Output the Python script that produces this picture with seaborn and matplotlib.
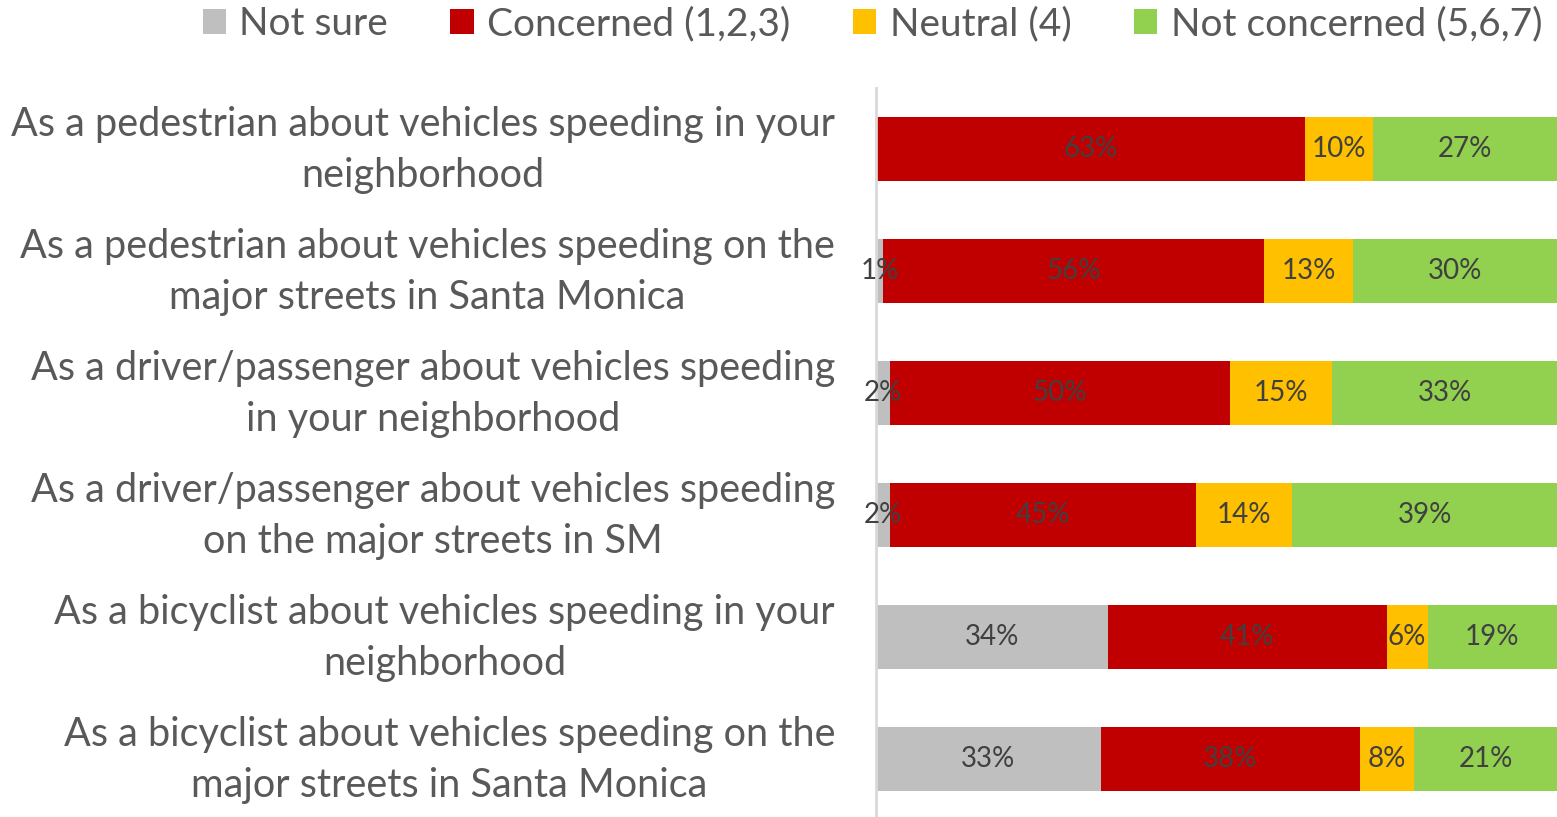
import matplotlib
matplotlib.use("Agg")
import matplotlib.pyplot as plt
import matplotlib.transforms as mtransforms
import seaborn as sns
import pandas as pd
import numpy as np
from matplotlib.patches import Patch

categories = [
    "As a pedestrian about vehicles speeding in your\nneighborhood",
    "As a pedestrian about vehicles speeding on the\nmajor streets in Santa Monica",
    "As a driver/passenger about vehicles speeding\nin your neighborhood",
    "As a driver/passenger about vehicles speeding\non the major streets in SM",
    "As a bicyclist about vehicles speeding in your\nneighborhood",
    "As a bicyclist about vehicles speeding on the\nmajor streets in Santa Monica",
]
series = ["Not sure", "Concerned (1,2,3)", "Neutral (4)", "Not concerned (5,6,7)"]
not_sure = [0, 1, 2, 2.1, 34, 33]
concerned = [63, 56, 50, 44.9, 41, 38]
neutral = [10, 13, 15, 14.1, 6, 8]
not_concerned = [27, 30, 33, 38.9, 19, 21]
labels_not_sure = ["", "1%", "2%", "2%", "34%", "33%"]
labels_concerned = ["63%", "56%", "50%", "45%", "41%", "38%"]
labels_neutral = ["10%", "13%", "15%", "14%", "6%", "8%"]
labels_not_concerned = ["27%", "30%", "33%", "39%", "19%", "21%"]
colors = ["#BFBFBF", "#C00000", "#FFC000", "#92D050"]

sns.set_theme(style="white")
plt.rcParams["font.family"] = ["Lato", "DejaVu Sans"]

values = [not_sure, concerned, neutral, not_concerned]
labels = [labels_not_sure, labels_concerned, labels_neutral, labels_not_concerned]
cum = np.cumsum(np.array(values, dtype=float), axis=0)

fig = plt.figure(figsize=(15.57, 8.17), dpi=100)
ax = fig.add_axes([876 / 1557, -3 / 817, 1 - 876 / 1557, (817 - 88 + 3) / 817])

for i in range(3, -1, -1):
    df = pd.DataFrame({"cat": categories, "end": cum[i]})
    sns.barplot(data=df, x="end", y="cat", color=colors[i], orient="h",
                width=0.52, saturation=1, ax=ax, edgecolor="none", linewidth=0)

for i in range(4):
    start = cum[i] - np.array(values[i], dtype=float)
    for j, cat in enumerate(categories):
        if labels[i][j]:
            ax.text((start[j] + cum[i][j]) / 2, j, labels[i][j], ha="center", va="center",
                    fontsize=20, color="#404040", clip_on=False)

ax.set_xlim(0, 100)
ax.set_ylim(5.5, -0.5)
ax.set_xlabel("")
ax.set_ylabel("")
ax.set_xticks([])
ax.set_yticks(range(len(categories)))
ax.set_yticklabels([])
ax.tick_params(axis="y", length=0)

# category labels drawn as text at the tick positions
shift = mtransforms.ScaledTranslation(-41 / 100, -1 / 100, fig.dpi_scale_trans)
for j, cat in enumerate(categories):
    ax.text(0, j, cat, transform=ax.get_yaxis_transform() + shift,
            ha="right", va="center", multialignment="center", linespacing=1.45,
            fontsize=28.5, color="#595959", clip_on=False)

for s in ["top", "right", "bottom"]:
    ax.spines[s].set_visible(False)
ax.spines["left"].set_color("#D9D9D9")
ax.spines["left"].set_linewidth(2)

handles = [Patch(facecolor=c, edgecolor="none") for c in colors]
fig.legend(handles, series, loc="upper right", bbox_to_anchor=(1.013, 1.035), ncol=4,
           frameon=False, fontsize=28, labelcolor="#595959", handlelength=0.6,
           handleheight=0.6, handletextpad=0.35, columnspacing=1.6)

fig.savefig("out.png", dpi=100)
